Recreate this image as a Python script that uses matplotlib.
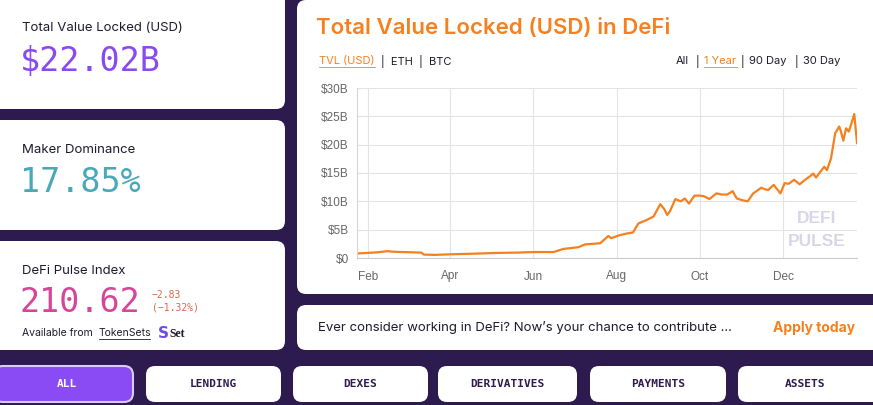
import numpy as np
import pandas as pd
import matplotlib
matplotlib.use('Agg')
import matplotlib.pyplot as plt
import matplotlib.dates as mdates
from matplotlib.patches import FancyBboxPatch

# TVL series (USD billions)
dates = ['2020-01-24', '2020-02-01', '2020-02-08', '2020-02-15', '2020-02-20', '2020-02-26',
         '2020-03-05', '2020-03-11', '2020-03-13', '2020-03-21', '2020-04-01', '2020-04-17',
         '2020-05-06', '2020-05-20', '2020-06-01', '2020-06-16', '2020-06-23', '2020-07-04',
         '2020-07-09', '2020-07-20', '2020-07-26', '2020-07-28', '2020-08-03', '2020-08-08',
         '2020-08-13', '2020-08-17', '2020-08-22', '2020-08-28', '2020-09-02', '2020-09-05',
         '2020-09-07', '2020-09-09', '2020-09-13', '2020-09-17', '2020-09-20', '2020-09-23',
         '2020-09-27', '2020-10-01', '2020-10-04', '2020-10-08', '2020-10-13', '2020-10-17',
         '2020-10-21', '2020-10-25', '2020-10-28', '2020-11-01', '2020-11-05', '2020-11-09',
         '2020-11-15', '2020-11-18', '2020-11-20', '2020-11-24', '2020-11-29', '2020-12-02',
         '2020-12-05', '2020-12-09', '2020-12-13', '2020-12-17', '2020-12-21', '2020-12-23',
         '2020-12-25', '2020-12-31', '2021-01-02', '2021-01-05', '2021-01-08', '2021-01-11',
         '2021-01-12', '2021-01-14', '2021-01-16', '2021-01-18', '2021-01-20', '2021-01-22',
         '2021-01-24']
tvl = [0.8, 0.9, 1.0, 1.2, 1.1, 1.05,
       1.0, 0.95, 0.6, 0.55, 0.65, 0.75,
       0.9, 0.95, 1.05, 1.05, 1.6, 1.9,
       2.4, 2.6, 3.9, 3.5, 4.0, 4.3,
       4.5, 6.1, 6.6, 7.3, 9.5, 8.6,
       7.6, 8.2, 10.4, 10.0, 10.5, 9.6,
       11.0, 11.0, 10.9, 10.4, 11.4, 11.2,
       11.2, 11.8, 10.5, 10.2, 10.0, 11.4,
       12.4, 12.1, 12.0, 12.9, 11.4, 13.2,
       13.1, 13.8, 13.0, 13.8, 14.5, 14.9,
       14.2, 16.1, 15.5, 17.6, 22.0, 23.2,
       22.5, 20.7, 22.9, 22.3, 23.8, 25.4,
       20.3]

month_ticks = ['2020-02-01', '2020-04-01', '2020-06-01', '2020-08-01', '2020-10-01', '2020-12-01']
y_ticks = [0, 5, 10, 15, 20, 25, 30]

buttons = ['ALL', 'LENDING', 'DEXES', 'DERIVATIVES', 'PAYMENTS', 'ASSETS']
btn_x = [0, 146, 293, 438, 590, 738]
btn_w = [133, 135, 135, 139, 136, 135]

ranges = ['All', '|', '1 Year', '|', '90 Day', '|', '30 Day']
range_x = [676, 696, 704, 741, 749, 795, 803]

BG = '#2d1a4e'
ORANGE = '#f7801e'
DARK = '#1f1b2e'

fig = plt.figure(figsize=(8.73, 4.05), dpi=100)
fig.patch.set_facecolor(BG)
bg = fig.add_axes([0, 0, 1, 1])
bg.set_xlim(0, 873)
bg.set_ylim(405, 0)
bg.axis('off')


def card(x, y, w, h, fc='white', ec='none', lw=0):
	p = FancyBboxPatch((x, y), w, h, boxstyle='round,pad=0,rounding_size=9',
	                   fc=fc, ec=ec, lw=lw)
	bg.add_patch(p)


# left cards
card(-10, -10, 295, 119)
card(-10, 120, 295, 110)
card(-10, 241, 295, 109)
# chart card + apply card
card(297, 0, 586, 294)
card(297, 305, 586, 45)

sans = ['Inter', 'DejaVu Sans']
mono = ['DejaVu Sans Mono']

bg.text(22, 28, 'Total Value Locked (USD)', fontsize=9.5, family=sans, color=DARK, va='center')
bg.text(20, 62, '$22.02B', fontsize=24, family=mono, color='#8a4af3', va='center')

bg.text(22, 150, 'Maker Dominance', fontsize=9.5, family=sans, color=DARK, va='center')
bg.text(20, 183, '17.85%', fontsize=24, family=mono, color='#4aa8b8', va='center')

bg.text(22, 271, 'DeFi Pulse Index', fontsize=9.5, family=sans, color=DARK, va='center')
bg.text(20, 302, '210.62', fontsize=24, family=mono, color='#d6459a', va='center')
bg.text(152, 295, '\u22122.83', fontsize=7, family=mono, color='#d9684a', va='center')
bg.text(152, 308, '(\u22121.32%)', fontsize=7, family=mono, color='#d9684a', va='center')
bg.text(22, 333, 'Available from', fontsize=7.5, family=sans, color=DARK, va='center')
bg.text(99, 333, 'TokenSets', fontsize=7.5, family=sans, color=DARK, va='center')
bg.plot([99, 150], [339, 339], color=DARK, lw=0.6)
bg.text(158, 334, 'S', fontsize=11, color='#6a4cf0', fontweight='bold', va='center')
bg.text(169, 334, 'Set', fontsize=8.5, family=['Liberation Serif'], color=DARK,
        fontweight='bold', va='center')

# chart header
bg.text(316, 28, 'Total Value Locked (USD) in DeFi', fontsize=16, family=sans,
        color=ORANGE, fontweight='semibold', va='center')
bg.text(319, 61, 'TVL (USD)', fontsize=8, family=sans, color=ORANGE, va='center')
bg.plot([319, 375], [67, 67], color=ORANGE, lw=0.6)
bg.text(381, 61, '|  ETH  |  BTC', fontsize=8, family=sans, color=DARK, va='center')
for i, r in enumerate(ranges):
	col = ORANGE if r == '1 Year' else DARK
	bg.text(range_x[i], 61, r, fontsize=8, family=sans, color=col, va='center')
bg.plot([704, 737], [67, 67], color=ORANGE, lw=0.6)

# apply banner
bg.text(318, 328, 'Ever consider working in DeFi? Now\u2019s your chance to contribute \u2026',
        fontsize=9.5, family=sans, color=DARK, va='center')
bg.text(855, 328, 'Apply today', fontsize=10, family=sans, color=ORANGE,
        fontweight='bold', va='center', ha='right')

# bottom buttons
for i, name in enumerate(buttons):
	if i == 0:
		card(btn_x[i] - 6, 366, btn_w[i] + 6, 36, fc='#8a4bf5', ec='#d9c9ff', lw=1.5)
		col = 'white'
	else:
		card(btn_x[i], 366, btn_w[i] + (10 if i == len(buttons) - 1 else 0), 36)
		col = '#2d1a4e'
	bg.text(btn_x[i] + btn_w[i] / 2, 384, name, fontsize=8, family=mono, color=col,
	        fontweight='bold', ha='center', va='center')

# the chart
ax = fig.add_axes([357 / 873, 147 / 405, 500 / 873, 170 / 405])
ax.set_facecolor('white')
x = pd.to_datetime(dates)
ax.plot(x, tvl, color=ORANGE, lw=1.6)
ax.set_xlim(pd.Timestamp('2020-01-24'), pd.Timestamp('2021-01-24'))
ax.set_ylim(0, 30)
ax.set_yticks(y_ticks)
ax.set_yticklabels(['$0' if v == 0 else f'${v}B' for v in y_ticks])
ax.set_xticks(pd.to_datetime(month_ticks))
ax.xaxis.set_major_formatter(mdates.DateFormatter('%b'))
ax.grid(True, color='#e3e3e3', lw=0.8)
ax.set_axisbelow(True)
for s in ['top', 'right']:
	ax.spines[s].set_visible(False)
ax.spines['left'].set_color('#d6d6d6')
ax.spines['bottom'].set_color('#cccccc')
ax.tick_params(length=0, labelsize=8.5, colors='#666666')
ax.tick_params(axis='x', pad=9)
ax.tick_params(axis='y', pad=6)
for lab in ax.get_xticklabels() + ax.get_yticklabels():
	lab.set_family(['Liberation Sans'])

# watermark
ax.text(0.92, 0.235, 'DEFI', transform=ax.transAxes, fontsize=12.5, color='#d8d6e6',
        fontweight='bold', ha='center', va='center', family=['Liberation Sans'])
ax.text(0.92, 0.10, 'PULSE', transform=ax.transAxes, fontsize=12.5, color='#d8d6e6',
        fontweight='bold', ha='center', va='center', family=['Liberation Sans'])

fig.savefig('out.png', dpi=100, facecolor=fig.get_facecolor())
